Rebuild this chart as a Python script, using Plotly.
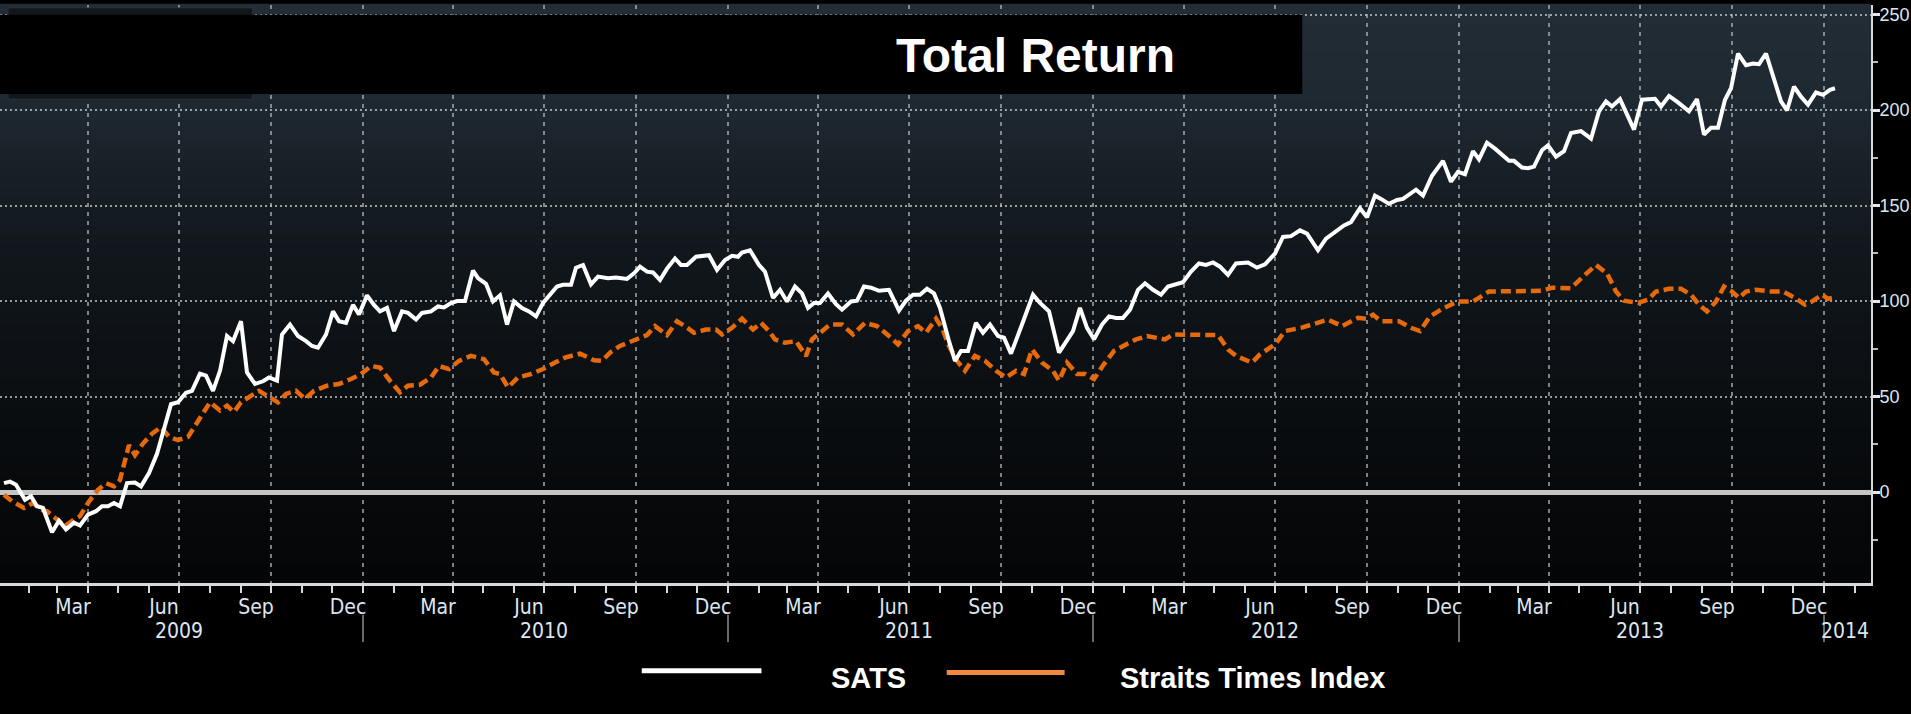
import plotly.graph_objects as go

# weekly total return (%)
sats_dates = [
    "2009-01-07", "2009-01-13", "2009-01-19", "2009-01-28", "2009-02-03", "2009-02-09", "2009-02-15", "2009-02-24",
    "2009-03-03", "2009-03-10", "2009-03-18", "2009-03-24", "2009-04-01", "2009-04-09", "2009-04-15", "2009-04-21",
    "2009-04-27", "2009-05-03", "2009-05-10", "2009-05-18", "2009-05-24", "2009-06-01", "2009-06-09", "2009-06-15",
    "2009-06-23", "2009-06-30", "2009-07-08", "2009-07-14", "2009-07-22", "2009-07-28", "2009-08-04", "2009-08-11",
    "2009-08-18", "2009-08-24", "2009-09-01", "2009-09-07", "2009-09-15", "2009-09-23", "2009-09-29", "2009-10-07",
    "2009-10-12", "2009-10-20", "2009-10-28", "2009-11-05", "2009-11-11", "2009-11-17", "2009-11-25", "2009-12-02",
    "2009-12-08", "2009-12-15", "2009-12-22", "2009-12-28",
    "2010-01-05", "2010-01-12", "2010-01-18", "2010-01-25", "2010-02-01", "2010-02-09", "2010-02-15", "2010-02-23",
    "2010-03-01", "2010-03-10", "2010-03-17", "2010-03-23", "2010-03-30", "2010-04-05", "2010-04-13", "2010-04-21",
    "2010-04-26", "2010-05-04", "2010-05-11", "2010-05-18", "2010-05-25", "2010-06-01", "2010-06-09", "2010-06-16",
    "2010-06-23", "2010-06-30", "2010-07-07", "2010-07-14", "2010-07-20", "2010-07-28", "2010-08-02", "2010-08-09",
    "2010-08-17", "2010-08-24", "2010-09-03", "2010-09-11", "2010-09-22", "2010-09-29", "2010-10-05", "2010-10-12",
    "2010-10-18", "2010-10-25", "2010-11-01", "2010-11-09", "2010-11-15", "2010-11-21", "2010-11-30", "2010-12-13",
    "2010-12-21", "2010-12-29",
    "2011-01-05", "2011-01-11", "2011-01-15", "2011-01-23", "2011-02-01", "2011-02-07", "2011-02-15", "2011-02-22",
    "2011-03-01", "2011-03-09", "2011-03-16", "2011-03-22", "2011-03-28", "2011-04-03", "2011-04-11", "2011-04-19",
    "2011-04-25", "2011-05-04", "2011-05-10", "2011-05-17", "2011-05-24", "2011-06-01", "2011-06-11", "2011-06-21",
    "2011-06-28", "2011-07-05", "2011-07-12", "2011-07-19", "2011-07-26", "2011-08-01", "2011-08-10", "2011-08-16",
    "2011-08-22", "2011-08-29", "2011-09-06", "2011-09-13", "2011-09-20", "2011-09-28", "2011-10-04", "2011-10-11",
    "2011-10-22", "2011-11-02", "2011-11-09", "2011-11-18", "2011-11-28", "2011-12-05", "2011-12-12", "2011-12-19",
    "2011-12-26",
    "2012-01-02", "2012-01-10", "2012-01-17", "2012-01-24", "2012-01-31", "2012-02-07", "2012-02-15", "2012-02-22",
    "2012-03-01", "2012-03-09", "2012-03-16", "2012-03-23", "2012-03-31", "2012-04-08", "2012-04-16", "2012-04-23",
    "2012-04-30", "2012-05-07", "2012-05-15", "2012-05-23", "2012-06-04", "2012-06-13", "2012-06-21", "2012-07-01",
    "2012-07-09", "2012-07-17", "2012-07-26", "2012-08-02", "2012-08-13", "2012-08-21", "2012-08-31", "2012-09-08",
    "2012-09-15", "2012-09-24", "2012-10-01", "2012-10-09", "2012-10-15", "2012-10-23", "2012-10-31", "2012-11-06",
    "2012-11-19", "2012-11-26", "2012-12-05", "2012-12-16", "2012-12-24", "2012-12-31",
    "2013-01-07", "2013-01-15", "2013-01-21", "2013-01-29", "2013-02-06", "2013-02-14", "2013-02-20", "2013-02-25",
    "2013-03-05", "2013-03-11", "2013-03-17", "2013-03-25", "2013-03-31", "2013-04-08", "2013-04-16", "2013-04-23",
    "2013-05-03", "2013-05-13", "2013-05-21", "2013-05-28", "2013-06-03", "2013-06-11", "2013-06-18", "2013-06-25",
    "2013-07-03", "2013-07-09", "2013-07-16", "2013-07-22", "2013-07-30", "2013-08-08", "2013-08-19", "2013-08-27",
    "2013-09-03", "2013-09-10", "2013-09-17", "2013-09-24", "2013-09-30", "2013-10-07", "2013-10-15", "2013-10-22",
    "2013-10-28", "2013-11-04", "2013-11-11", "2013-11-19", "2013-11-25", "2013-12-02", "2013-12-09", "2013-12-16",
    "2013-12-24", "2013-12-31", "2014-01-07", "2014-01-12",
]
sats_values = [
    4.7, 5.5, 3.8, -4, -2.2, -7.4, -8.3, -21,
    -15, -19.5, -16, -17.5, -11.8, -10, -7.4, -7.4,
    -5.7, -7.4, 4.7, 5, 3, 10, 20, 32,
    46, 47, 52, 53, 62, 61, 53, 63.5,
    81.7, 79, 89.4, 62.6, 56.6, 58, 60, 58.3,
    82.5, 87.7, 81.7, 79, 76.5, 75.6, 82.5, 94.6,
    89.4, 88.6, 98, 93,
    103, 98, 94.6, 96.4, 84.3, 94.6, 93.8, 90.3,
    93.8, 94.6, 97.2, 96.7, 99, 100, 100, 116,
    112, 109, 99.8, 103, 87.7, 99.8, 96.4, 94.6,
    92, 99, 103, 107.6, 108.5, 108.5, 117.5, 118.9,
    108.8, 112.8, 112, 112.3, 111.6, 114.5, 118, 115.4,
    115, 111, 117, 122.3, 118.9, 118.9, 123.2, 124,
    116.3, 121.5,
    123.7, 123.2, 125.4, 126.6, 118.9, 115.4, 101.6, 105.9,
    99.8, 107.6, 104, 96.4, 99, 99, 104, 98.4,
    95.5, 99.8, 100.2, 107.6, 107, 105.4, 105.9, 95,
    100.2, 103.3, 103.3, 106.4, 104, 96.4, 79, 68.7,
    73.9, 73.9, 88.6, 83.4, 87.7, 81.7, 80.8, 72.5,
    87.7, 103.3, 99, 94.6, 73, 79, 84.3, 96.4,
    86,
    80, 87.7, 92, 91.2, 91.2, 95.5, 105.9, 109.3,
    105.9, 103.3, 107.6, 108.5, 109.9, 115.4, 119.7, 118.9,
    120.2, 118, 113.7, 119.7, 120.2, 117.5, 119.2, 124.9,
    133.6, 134, 137, 135.3, 126.6, 132.7, 136.5, 139.6,
    141.3, 148.6, 143.9, 155.2, 153.5, 150.9, 152.9, 153.5,
    158.3, 155.2, 165.6, 173.4, 162.5, 167.6,
    166.4, 178.5, 174.2, 182.9, 179.8, 176.3, 173.4, 173.4,
    169.9, 169.6, 170.4, 179, 181.5, 175.6, 178.5, 188,
    189, 185, 199.3, 204.5, 201.9, 205.7, 197.6, 189.8,
    205.4, 205.4, 205.9, 201.9, 207.4, 204, 199.3, 205.7,
    187.2, 190.7, 190.7, 205.4, 211.4, 229.6, 223.5, 224.4,
    224, 229.6, 217.5, 204.5, 199.8, 212.3, 207, 202.8,
    209.2, 208, 210.6, 211.4,
]

sti_dates = [
    "2009-01-07", "2009-01-15", "2009-01-27", "2009-02-05", "2009-02-13", "2009-02-19", "2009-02-27", "2009-03-09",
    "2009-03-18", "2009-03-24", "2009-04-01", "2009-04-11", "2009-04-19", "2009-04-27", "2009-05-03", "2009-05-12",
    "2009-05-18", "2009-05-26", "2009-06-04", "2009-06-13", "2009-06-21", "2009-06-30", "2009-07-10", "2009-07-20",
    "2009-08-01", "2009-08-11", "2009-08-18", "2009-08-25", "2009-09-01", "2009-09-09", "2009-09-19", "2009-09-27",
    "2009-10-08", "2009-10-16", "2009-10-26", "2009-11-04", "2009-11-13", "2009-11-26", "2009-12-08", "2009-12-20",
    "2009-12-30",
    "2010-01-09", "2010-01-18", "2010-01-28", "2010-02-07", "2010-02-15", "2010-02-27", "2010-03-10", "2010-03-18",
    "2010-03-28", "2010-04-07", "2010-04-19", "2010-05-02", "2010-05-12", "2010-05-18", "2010-05-26", "2010-06-05",
    "2010-06-18", "2010-06-30", "2010-07-12", "2010-07-22", "2010-08-06", "2010-08-20", "2010-08-28", "2010-09-05",
    "2010-09-15", "2010-09-26", "2010-10-12", "2010-10-20", "2010-11-01", "2010-11-11", "2010-11-19", "2010-11-28",
    "2010-12-10", "2010-12-20", "2010-12-26",
    "2011-01-05", "2011-01-15", "2011-01-26", "2011-02-03", "2011-02-11", "2011-02-17", "2011-02-27", "2011-03-10",
    "2011-03-20", "2011-03-26", "2011-04-03", "2011-04-13", "2011-04-25", "2011-05-06", "2011-05-18", "2011-05-30",
    "2011-06-11", "2011-06-20", "2011-06-30", "2011-07-10", "2011-07-18", "2011-07-28", "2011-08-03", "2011-08-10",
    "2011-08-18", "2011-08-26", "2011-09-05", "2011-09-15", "2011-09-26", "2011-10-06", "2011-10-16", "2011-10-24",
    "2011-11-01", "2011-11-11", "2011-11-22", "2011-11-28", "2011-12-06", "2011-12-16", "2011-12-24",
    "2012-01-02", "2012-01-12", "2012-01-22", "2012-02-03", "2012-02-13", "2012-02-24", "2012-03-03", "2012-03-13",
    "2012-03-21", "2012-04-02", "2012-04-17", "2012-05-05", "2012-05-15", "2012-05-23", "2012-06-08", "2012-06-16",
    "2012-07-01", "2012-07-11", "2012-07-27", "2012-08-11", "2012-08-23", "2012-09-06", "2012-09-22", "2012-09-30",
    "2012-10-07", "2012-10-15", "2012-11-02", "2012-11-14", "2012-11-23", "2012-12-03", "2012-12-17", "2012-12-31",
    "2013-01-15", "2013-01-31", "2013-02-16", "2013-03-09", "2013-03-25", "2013-04-04", "2013-04-23", "2013-05-05",
    "2013-05-18", "2013-05-29", "2013-06-07", "2013-06-15", "2013-06-29", "2013-07-09", "2013-07-17", "2013-07-30",
    "2013-08-11", "2013-08-21", "2013-08-29", "2013-09-06", "2013-09-15", "2013-09-23", "2013-10-01", "2013-10-08",
    "2013-10-15", "2013-10-25", "2013-11-09", "2013-11-21", "2013-12-03", "2013-12-13", "2013-12-19", "2013-12-30",
    "2014-01-05", "2014-01-12",
]
sti_values = [
    -1.4, -4.8, -8.3, -5.7, -9.2, -10, -13.5, -17.8,
    -14.4, -12.6, -5.7, 1.2, 4.7, 3, 6.4, 24.6,
    19.4, 25.4, 30.6, 34, 28.9, 27.2, 28.9, 37.5,
    47, 42.7, 45.3, 41.9, 47, 49.7, 53, 50.5,
    47, 51.4, 53, 48.8, 53, 55.7, 56.6, 59.2,
    61.8,
    66, 65.2, 58.3, 52.2, 55.7, 56.2, 60, 66,
    64.4, 68.7, 71.3, 69.6, 62.6, 61.8, 54.8, 60,
    61.8, 64.4, 67.8, 70.4, 72.5, 69, 68.7, 73,
    76.5, 79, 82.2, 86.9, 82.2, 89.4, 86.9, 83.4,
    85.1, 85.1, 82.5,
    86, 90.8, 85.1, 88.6, 84.3, 79.9, 78.2, 79,
    71.3, 79.9, 83.4, 87.7, 87.7, 82.5, 88.6, 86.9,
    81.7, 77.3, 84.3, 86.9, 83.4, 90.8, 86, 76.5,
    68.7, 63.5, 71.3, 68.7, 63.5, 60, 63.5, 61.8,
    74.7, 67.8, 63.5, 58.3, 67.8, 61.8, 61.8,
    59.2, 67, 73.9, 77.3, 79.9, 81.7, 80.8, 79.9,
    82.5, 82.5, 82.2, 82.2, 74.7, 71.3, 67.8, 72.1,
    77.3, 84.3, 86, 88.6, 90.3, 86.9, 91.2, 90.8,
    92.9, 89.4, 89.4, 86, 84.3, 92, 96.4, 99.8,
    99.8, 105, 105, 105, 105.4, 107, 106.7, 112.8,
    118.9, 114.5, 105, 100.2, 99, 100.7, 105, 106.4,
    106.4, 103.3, 98.1, 94.6, 99.8, 107.6, 105, 101.6,
    105, 105.9, 105, 105, 101.6, 98.1, 99.5, 103.3,
    101.2, 101.9,
]

series_names = ["SATS", "Straits Times Index"]

quarter_ticks = [
    "2009-04-01", "2009-07-01", "2009-10-01", "2010-01-01",
    "2010-04-01", "2010-07-01", "2010-10-01", "2011-01-01",
    "2011-04-01", "2011-07-01", "2011-10-01", "2012-01-01",
    "2012-04-01", "2012-07-01", "2012-10-01", "2013-01-01",
    "2013-04-01", "2013-07-01", "2013-10-01", "2014-01-01",
]
quarter_labels = ["Mar", "Jun", "Sep", "Dec"] * 5
years = ["2009", "2010", "2011", "2012", "2013", "2014"]
y_ticks = [0, 50, 100, 150, 200, 250]

x_range = ["2009-01-03", "2014-02-17"]
y_range = [-47.6, 255]

NARROW = "Liberation Sans Narrow, DejaVu Sans Condensed, Roboto Condensed, Arial Narrow, sans-serif"
TICK_FONT = "Liberation Sans, Arial, sans-serif"
BOLD = "Liberation Sans, Arial, sans-serif"
ORANGE = "#e66a0c"
TICK_TXT = "#dde6ef"

fig = go.Figure()

fig.add_trace(go.Scatter(
    x=sti_dates, y=sti_values, name=series_names[1], mode="lines",
    line=dict(color=ORANGE, width=4.5, dash="10px,5px"),
))
fig.add_trace(go.Scatter(
    x=sats_dates, y=sats_values, name=series_names[0], mode="lines",
    line=dict(color="white", width=4),
))

# background gradient of the plot area (dark slate at the top, black at the bottom)
stops = [(0.0, (5, 6, 7)), (0.16, (7, 9, 11)), (0.576, (17, 23, 28)), (0.818, (30, 40, 48)), (1.0, (34, 45, 54))]
shapes = []
n = 60
for i in range(n):
    f = (i + 0.5) / n
    for (a, ca), (b, cb) in zip(stops[:-1], stops[1:]):
        if a <= f <= b:
            t = (f - a) / (b - a)
            c = [round(ca[k] + (cb[k] - ca[k]) * t) for k in range(3)]
            break
    shapes.append(dict(type="rect", xref="x domain", yref="y domain",
                       x0=0, x1=1, y0=i / n, y1=(i + 1) / n + 0.002,
                       fillcolor="rgb(%d,%d,%d)" % tuple(c), line=dict(width=0), layer="below"))

# faint box under the title bar, then the title bar itself
shapes.append(dict(type="rect", xref="paper", yref="paper", x0=0.0043, x1=0.135, y0=0.837, y1=0.995,
                   fillcolor="#12171c", line=dict(color="#2b3239", width=1), layer="above"))
shapes.append(dict(type="rect", xref="paper", yref="paper", x0=0, x1=0.696, y0=0.846, y1=0.983,
                   fillcolor="black", line=dict(width=0), layer="above"))

# year separators below the month labels
for y in years[1:]:
    shapes.append(dict(type="line", xref="x", yref="paper", x0=y + "-01-01", x1=y + "-01-01",
                       y0=-0.055, y1=-0.102, line=dict(color="#8c8c8c", width=1.5)))

# legend drawn by hand
shapes.append(dict(type="line", xref="paper", yref="paper", x0=0.343, x1=0.407, y0=-0.152, y1=-0.152,
                   line=dict(color="white", width=5)))
shapes.append(dict(type="line", xref="paper", yref="paper", x0=0.506, x1=0.569, y0=-0.155, y1=-0.155,
                   line=dict(color="#f0883e", width=5)))

annotations = [
    dict(text="<b>Total Return</b>", xref="paper", yref="paper", x=0.5537, y=0.913,
         xanchor="center", yanchor="middle",
         showarrow=False, font=dict(family=BOLD, size=48, color="white")),
    dict(text="<b>%s</b>" % series_names[0], xref="paper", yref="paper", x=0.443, y=-0.164,
         xanchor="left", yanchor="middle", showarrow=False, font=dict(family=BOLD, size=29, color="white")),
    dict(text="<b>%s</b>" % series_names[1], xref="paper", yref="paper", x=0.5976, y=-0.164,
         xanchor="left", yanchor="middle", showarrow=False, font=dict(family=BOLD, size=29, color="white")),
]
for y in years:
    if y == years[-1]:
        annotations.append(dict(text=y, xref="x", yref="paper", x=x_range[1], y=-0.083,
                                xanchor="right", yanchor="middle",
                                showarrow=False, font=dict(family=NARROW, size=21, color=TICK_TXT)))
    else:
        annotations.append(dict(text=y, xref="x", yref="paper", x=y + "-07-01", y=-0.083,
                                xanchor="center", yanchor="middle",
                                showarrow=False, font=dict(family=NARROW, size=21, color=TICK_TXT)))

fig.update_layout(
    width=1911, height=714,
    margin=dict(l=0, r=40, t=5, b=131),
    paper_bgcolor="black", plot_bgcolor="rgba(0,0,0,0)",
    showlegend=False,
    shapes=shapes, annotations=annotations,
    xaxis=dict(
        type="date", range=x_range, automargin=False,
        tickmode="array", tickvals=quarter_ticks, ticktext=quarter_labels,
        ticklabelshift=-15, ticklabelstandoff=-4,
        ticks="outside", ticklen=7, tickwidth=2, tickcolor="#d9d9d9",
        showline=True, linecolor="#d9d9d9", linewidth=3,
        showgrid=True, gridcolor="rgba(175,180,186,0.7)", gridwidth=1.5, griddash="4px,5px",
        zeroline=False,
        tickfont=dict(family=NARROW, size=21, color=TICK_TXT),
        minor=dict(dtick="M1", tick0="2009-01-01", ticks="outside", ticklen=7, tickwidth=2,
                   tickcolor="#d9d9d9", showgrid=False),
    ),
    yaxis=dict(
        range=y_range, side="right", automargin=False,
        tickmode="array", tickvals=y_ticks,
        ticks="outside", ticklen=7, tickwidth=3, tickcolor="#e6e6e6",
        ticklabelstandoff=-4,
        showline=True, linecolor="#d9d9d9", linewidth=2,
        showgrid=True, gridcolor="rgba(195,200,206,0.75)", gridwidth=1.5, griddash="2px,3px",
        zeroline=True, zerolinecolor="#c4c4c4", zerolinewidth=5,
        tickfont=dict(family=TICK_FONT, size=18, color=TICK_TXT),
        minor=dict(dtick=50, tick0=25, ticks="outside", ticklen=5, tickwidth=2, tickcolor="#bbbbbb",
                   showgrid=False),
    ),
)

fig.write_html("out.html", config={"displayModeBar": False},
               post_script="document.body.style.margin='0';")
